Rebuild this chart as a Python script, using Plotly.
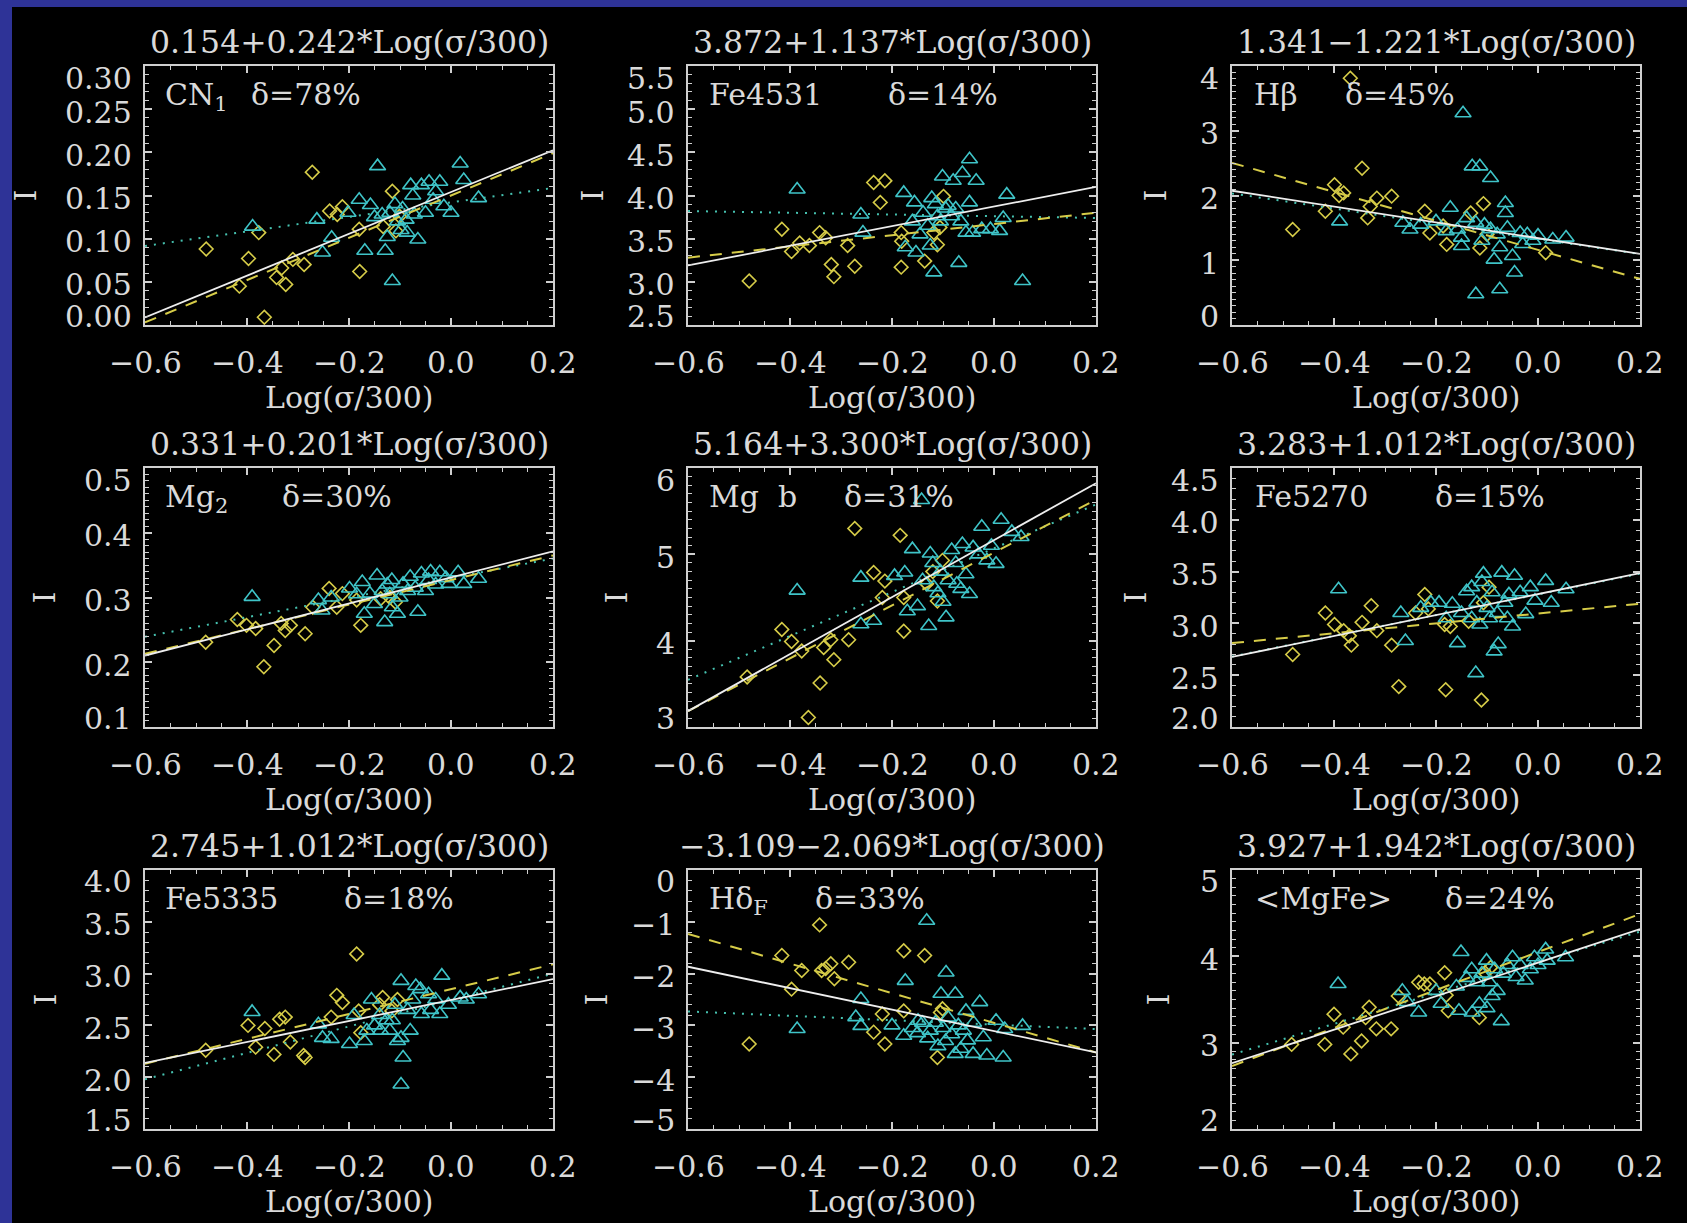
import plotly.graph_objects as go

# ---------------------------------------------------------------- data ----
INDEX_NAMES = ["CN<sub>1</sub>", "Fe4531", "Hβ", "Mg<sub>2</sub>", "Mg  b",
               "Fe5270", "Fe5335", "Hδ<sub>F</sub>", "&lt;MgFe&gt;"]
SCATTER_PCT = [78, 14, 45, 30, 31, 15, 18, 33, 24]

# global fit  I = a + b*Log(sigma/300)
FIT_ZERO = [0.154, 3.872, 1.341, 0.331, 5.164, 3.283, 2.745, -3.109, 3.927]
FIT_SLOPE = [0.242, 1.137, -1.221, 0.201, 3.300, 1.012, 1.012, -2.069, 1.942]
# fits to each sub-sample
DIAMOND_FIT_ZERO = [0.150, 3.67, 1.16, 0.327, 5.02, 3.095, 2.85, -2.95, 4.05]
DIAMOND_FIT_SLOPE = [0.245, 0.65, -2.24, 0.19, 3.06, 0.475, 1.20, -2.86, 2.20]
TRIANGLE_FIT_ZERO = [0.142, 3.76, 1.33, 0.330, 5.07, 3.28, 2.745, -2.985, 3.93]
TRIANGLE_FIT_SLOPE = [0.084, -0.10, -1.17, 0.151, 2.54, 1.00, 1.275, -0.425, 1.78]

Y_MIN = [0.0, 2.5, 0.0, 0.1, 3.0, 2.0, 1.5, -5.0, 2.0]
Y_MAX = [0.30, 5.5, 4.0, 0.5, 6.0, 4.5, 4.0, 0.0, 5.0]
Y_STEP = [0.05, 0.5, 1.0, 0.1, 1.0, 0.5, 0.5, 1.0, 1.0]
Y_MINOR = [0.01, 0.1, 0.1, 0.01, 0.1, 0.1, 0.1, 0.2, 0.1]
Y_DECIMALS = [2, 1, 0, 1, 0, 1, 1, 0, 0]
X_RANGE = [-0.6, 0.2]
X_TICKS = [-0.6, -0.4, -0.2, 0.0, 0.2]

CN1_DIA_X = [-0.48, -0.415, -0.397, -0.377, -0.366, -0.342, -0.332, -0.324, -0.31, -0.288, -0.272,
             -0.238, -0.223, -0.213, -0.18, -0.179, -0.133, -0.115, -0.108, -0.101]
CN1_DIA_Y = [0.088, 0.045, 0.077, 0.107, 0.009, 0.055, 0.066, 0.047, 0.076, 0.070, 0.177,
             0.132, 0.128, 0.137, 0.111, 0.062, 0.114, 0.155, 0.109, 0.126]
CN1_TRI_X = [-0.389, -0.263, -0.252, -0.234, -0.202, -0.18, -0.169, -0.158, -0.144, -0.129, -0.115,
             -0.150, -0.135, -0.120, -0.105, -0.095, -0.088, -0.086, -0.079, -0.072, -0.065, -0.058,
             -0.05, -0.043, -0.035, -0.022, -0.014, 0.0, 0.018, 0.025, 0.054, -0.110, -0.098, -0.125,
             -0.030, -0.075]
CN1_TRI_Y = [0.114, 0.122, 0.084, 0.101, 0.130, 0.145, 0.086, 0.139, 0.184, 0.086, 0.051,
             0.125, 0.128, 0.130, 0.120, 0.135, 0.122, 0.107, 0.162, 0.128, 0.099, 0.162,
             0.130, 0.166, 0.145, 0.166, 0.1375, 0.130, 0.187, 0.168, 0.147, 0.140, 0.110, 0.102,
             0.155, 0.150]

FE4531_DIA_X = [-0.48, -0.416, -0.397, -0.381, -0.362, -0.342, -0.33, -0.319, -0.314, -0.287, -0.273,
                -0.236, -0.214, -0.223, -0.182, -0.181, -0.182, -0.136, -0.111, -0.106, -0.099, -0.118]
FE4531_DIA_Y = [3.01, 3.61, 3.35, 3.45, 3.42, 3.57, 3.51, 3.20, 3.06, 3.42, 3.18,
                4.15, 4.17, 3.92, 3.57, 3.47, 3.17, 3.24, 3.43, 3.63, 3.99, 3.57]
FE4531_TRI_X = [-0.386, -0.261, -0.257, -0.177, -0.156, -0.174, -0.153, -0.139, -0.122, -0.118, -0.101,
                -0.09, -0.083, -0.08, -0.069, -0.062, -0.048, -0.048, -0.035, -0.055, -0.042, -0.024,
                -0.007, 0.011, 0.018, 0.025, 0.056, -0.111, -0.095, -0.075, -0.125, -0.130, -0.105,
                -0.065, -0.145, -0.160, -0.115]
FE4531_TRI_Y = [4.07, 3.78, 3.57, 4.03, 3.92, 3.40, 3.34, 3.80, 3.97, 3.11, 4.22,
                3.88, 3.76, 4.17, 3.22, 4.26, 4.42, 3.92, 4.17, 3.57, 3.57, 3.61,
                3.61, 3.59, 3.74, 4.01, 3.01, 3.76, 3.85, 3.85, 3.42, 3.65, 3.70,
                3.70, 3.55, 3.70, 3.90]

HB_DIA_X = [-0.481, -0.417, -0.399, -0.381, -0.368, -0.345, -0.334, -0.329, -0.316, -0.287, -0.222,
            -0.212, -0.186, -0.179, -0.107, -0.114, -0.132, 0.015, -0.1, -0.39]
HB_DIA_Y = [1.475, 1.757, 2.166, 2.04, 3.81, 2.42, 1.654, 1.83, 1.96, 1.99, 1.757,
            1.42, 1.53, 1.245, 1.875, 1.19, 1.73, 1.117, 1.40, 2.0]
HB_TRI_X = [-0.389, -0.265, -0.251, -0.172, -0.15, -0.147, -0.129, -0.114, -0.093, -0.122, -0.075,
            -0.064, -0.064, -0.05, -0.046, -0.086, -0.158, -0.122, -0.093, -0.080, -0.035, -0.021,
            0.0, 0.029, 0.055, -0.200, -0.230, -0.180, -0.140, -0.105, -0.060, -0.110, -0.075,
            -0.030, -0.010, -0.150]
HB_TRI_Y = [1.60, 1.58, 1.475, 1.81, 1.22, 3.27, 2.45, 2.45, 2.27, 0.476, 0.553,
            1.885, 1.73, 1.065, 0.81, 1.01, 1.475, 1.58, 1.48, 1.40, 1.42, 1.40,
            1.38, 1.32, 1.35, 1.60, 1.55, 1.45, 1.65, 1.55, 1.50, 1.30, 1.20,
            1.25, 1.30, 1.35]

MG2_DIA_X = [-0.481, -0.419, -0.401, -0.383, -0.367, -0.347, -0.333, -0.325, -0.315, -0.286, -0.271,
             -0.239, -0.224, -0.213, -0.185, -0.177, -0.138, -0.109, -0.12]
MG2_DIA_Y = [0.231, 0.266, 0.257, 0.252, 0.193, 0.226, 0.260, 0.249, 0.257, 0.244, 0.285,
             0.314, 0.285, 0.306, 0.296, 0.257, 0.298, 0.293, 0.300]
MG2_TRI_X = [-0.390, -0.260, -0.253, -0.235, -0.199, -0.174, -0.170, -0.159, -0.145, -0.130, -0.116,
             -0.105, -0.094, -0.080, -0.065, -0.058, -0.044, -0.022, -0.004, 0.014, 0.025, 0.054,
             -0.135, -0.120, -0.100, -0.085, -0.070, -0.050, -0.030, -0.010, -0.150, -0.115, -0.185,
             -0.125, -0.040]
MG2_TRI_Y = [0.301, 0.296, 0.280, 0.300, 0.314, 0.324, 0.275, 0.306, 0.334, 0.262, 0.327,
             0.275, 0.321, 0.332, 0.278, 0.337, 0.327, 0.339, 0.321, 0.339, 0.321, 0.329,
             0.310, 0.305, 0.300, 0.310, 0.315, 0.310, 0.320, 0.330, 0.290, 0.285, 0.305,
             0.320, 0.340]

MGB_DIA_X = [-0.484, -0.416, -0.397, -0.377, -0.364, -0.341, -0.334, -0.32, -0.314, -0.285, -0.273,
             -0.236, -0.219, -0.214, -0.184, -0.177, -0.177, -0.132, -0.111, -0.101, -0.120]
MGB_DIA_Y = [3.58, 4.13, 3.99, 3.88, 3.11, 3.51, 3.92, 4.01, 3.78, 4.01, 5.30,
             4.79, 4.50, 4.69, 5.22, 4.50, 4.11, 4.66, 4.46, 4.93, 4.80]
MGB_TRI_X = [-0.386, -0.261, -0.261, -0.236, -0.195, -0.175, -0.16, -0.170, -0.142, -0.128, -0.125,
             -0.118, -0.094, -0.083, -0.073, -0.062, -0.055, -0.048, -0.041, -0.024, -0.014, 0.004,
             0.014, 0.035, 0.053, -0.105, -0.090, -0.075, -0.110, -0.140, -0.150, -0.100, -0.065,
             -0.030, -0.005, -0.120]
MGB_TRI_Y = [4.58, 4.73, 4.19, 4.23, 4.75, 4.79, 5.06, 4.34, 5.63, 4.17, 5.01,
             4.62, 4.27, 5.05, 4.66, 5.12, 4.77, 4.54, 5.08, 5.32, 4.93, 4.89,
             5.40, 5.26, 5.20, 4.80, 4.70, 4.90, 4.55, 4.70, 4.40, 4.45, 4.60,
             5.00, 5.10, 4.90]

FE5270_DIA_X = [-0.481, -0.417, -0.399, -0.381, -0.370, -0.366, -0.345, -0.327, -0.316, -0.287, -0.273,
                -0.240, -0.222, -0.215, -0.183, -0.181, -0.172, -0.136, -0.111, -0.107, -0.096]
FE5270_DIA_Y = [2.70, 3.10, 2.99, 2.93, 2.88, 2.79, 3.01, 3.17, 2.93, 2.79, 2.39,
                3.10, 3.28, 3.14, 2.99, 2.36, 2.97, 3.02, 2.26, 3.20, 3.35]
FE5270_TRI_X = [-0.391, -0.269, -0.260, -0.194, -0.168, -0.158, -0.140, -0.122, -0.114, -0.107, -0.086,
                -0.078, -0.071, -0.057, -0.046, -0.050, -0.024, -0.006, 0.015, 0.026, 0.055, -0.230,
                -0.210, -0.150, -0.130, -0.120, -0.100, -0.090, -0.080, -0.065, -0.035, -0.015, -0.130,
                -0.110, -0.095, -0.060, -0.180]
FE5270_TRI_Y = [3.33, 3.10, 2.83, 3.20, 3.19, 2.81, 3.31, 2.52, 2.99, 3.48, 2.73,
                2.80, 3.49, 3.28, 3.46, 2.97, 3.09, 3.22, 3.41, 3.20, 3.33, 3.15,
                3.20, 3.10, 3.05, 3.20, 3.15, 3.30, 3.10, 3.20, 3.30, 3.35, 3.35,
                3.40, 3.05, 3.05, 3.05]

FE5335_DIA_X = [-0.481, -0.398, -0.383, -0.365, -0.347, -0.336, -0.325, -0.315, -0.289, -0.286, -0.235,
                -0.224, -0.213, -0.185, -0.181, -0.177, -0.134, -0.116, -0.105, -0.140]
FE5335_DIA_Y = [2.26, 2.50, 2.29, 2.47, 2.22, 2.56, 2.58, 2.34, 2.21, 2.19, 2.58,
                2.79, 2.72, 3.19, 2.64, 2.43, 2.77, 2.64, 2.75, 2.70]
FE5335_TRI_X = [-0.390, -0.260, -0.252, -0.235, -0.199, -0.170, -0.156, -0.138, -0.127, -0.098, -0.098,
                -0.094, -0.098, -0.080, -0.069, -0.058, -0.044, -0.018, -0.022, 0.018, 0.054, -0.150,
                -0.140, -0.115, -0.110, -0.085, -0.075, -0.060, -0.040, -0.030, -0.005, 0.030, -0.120,
                -0.105, -0.165, -0.190]
FE5335_TRI_Y = [2.63, 2.51, 2.38, 2.37, 2.32, 2.35, 2.75, 2.45, 2.55, 2.93, 2.38,
                2.19, 1.93, 2.45, 2.88, 2.61, 2.80, 2.98, 2.61, 2.77, 2.80, 2.50,
                2.60, 2.55, 2.70, 2.65, 2.75, 2.85, 2.65, 2.75, 2.70, 2.75, 2.45,
                2.35, 2.45, 2.60]

HDF_DIA_X = [-0.480, -0.416, -0.397, -0.377, -0.342, -0.338, -0.320, -0.313, -0.285, -0.236, -0.219,
             -0.214, -0.177, -0.177, -0.136, -0.111, -0.101, -0.330, -0.105]
HDF_DIA_Y = [-3.36, -1.65, -2.30, -1.94, -1.06, -1.94, -1.81, -2.10, -1.78, -3.13, -2.78,
             -3.36, -1.56, -2.72, -1.65, -3.62, -2.68, -1.90, -2.75]
HDF_TRI_X = [-0.386, -0.261, -0.271, -0.261, -0.200, -0.174, -0.177, -0.132, -0.149, -0.125, -0.104,
             -0.094, -0.083, -0.076, -0.076, -0.055, -0.052, -0.041, -0.028, -0.021, -0.014, 0.004,
             0.018, 0.021, 0.056, -0.160, -0.140, -0.115, -0.100, -0.090, -0.070, -0.060, -0.040,
             -0.130, -0.110, -0.095, -0.065, -0.150]
HDF_TRI_Y = [-3.07, -2.49, -2.84, -3.01, -3.00, -2.14, -3.20, -0.98, -2.91, -3.10, -2.39,
             -1.98, -3.17, -2.39, -3.55, -2.72, -3.29, -3.55, -2.55, -3.23, -3.58, -2.91,
             -3.62, -3.07, -3.01, -3.05, -2.95, -2.95, -3.05, -2.85, -3.00, -3.10, -2.95,
             -3.25, -3.40, -3.30, -3.45, -3.15]

MGFE_DIA_X = [-0.483, -0.418, -0.400, -0.382, -0.367, -0.346, -0.331, -0.338, -0.317, -0.288, -0.274,
              -0.234, -0.223, -0.212, -0.183, -0.176, -0.115, -0.104, -0.093, -0.180]
MGFE_DIA_Y = [2.98, 2.98, 3.33, 3.18, 2.87, 3.02, 3.41, 3.29, 3.16, 3.16, 3.54,
              3.70, 3.68, 3.68, 3.81, 3.37, 3.29, 3.81, 3.87, 3.55]
MGFE_TRI_X = [-0.392, -0.266, -0.256, -0.234, -0.151, -0.155, -0.129, -0.101, -0.090, -0.072, -0.068,
              -0.050, -0.043, -0.025, -0.007, 0.015, 0.018, 0.054, -0.160, -0.140, -0.120, -0.110,
              -0.095, -0.085, -0.080, -0.060, -0.035, -0.015, 0.000, -0.130, -0.115, -0.100, -0.200,
              -0.190]
MGFE_TRI_Y = [3.68, 3.60, 3.47, 3.35, 4.05, 3.37, 3.35, 3.95, 3.54, 3.25, 3.80,
              3.99, 3.76, 3.72, 3.99, 4.08, 3.95, 3.99, 3.65, 3.75, 3.70, 3.80,
              3.70, 3.85, 3.60, 3.90, 3.90, 3.85, 3.90, 3.85, 3.45, 3.40, 3.60,
              3.45]

DIAMONDS_X = [CN1_DIA_X, FE4531_DIA_X, HB_DIA_X, MG2_DIA_X, MGB_DIA_X,
              FE5270_DIA_X, FE5335_DIA_X, HDF_DIA_X, MGFE_DIA_X]
DIAMONDS_Y = [CN1_DIA_Y, FE4531_DIA_Y, HB_DIA_Y, MG2_DIA_Y, MGB_DIA_Y,
              FE5270_DIA_Y, FE5335_DIA_Y, HDF_DIA_Y, MGFE_DIA_Y]
TRIANGLES_X = [CN1_TRI_X, FE4531_TRI_X, HB_TRI_X, MG2_TRI_X, MGB_TRI_X,
               FE5270_TRI_X, FE5335_TRI_X, HDF_TRI_X, MGFE_TRI_X]
TRIANGLES_Y = [CN1_TRI_Y, FE4531_TRI_Y, HB_TRI_Y, MG2_TRI_Y, MGB_TRI_Y,
               FE5270_TRI_Y, FE5335_TRI_Y, HDF_TRI_Y, MGFE_TRI_Y]

# -------------------------------------------------------------- layout ----
W, H = 1687, 1223
COL_LEFT = [145, 688, 1232]
ROW_TOP = [66, 468, 870]
PANEL_W, PANEL_H = 408, 259
YLABEL_GAP = [120, 96, 77, 101, 72, 97, 100, 92, 74]
NAME_DX = [20, 21, 22, 20, 21, 23, 20, 21, 23]
DELTA_DX = [106, 200, 113, 137, 156, 203, 199, 127, 213]

FONT = "DejaVu Serif"
FS = 30
FS_TITLE = 31.5
TXT = "#dadada"
FRAME = "#cfcfcf"
DIA_COL = "#d6cc48"
TRI_COL = "#3fc4c8"
DOT_COL = "#46c2b0"


def fmt(v, dec):
    v = round(v, 6) + 0.0
    return f"{v:.{dec}f}".replace("-", "\u2212")


def eq_text(a, b):
    sign = "+" if b >= 0 else "\u2212"
    return f"{fmt(a, 3)}{sign}{abs(b):.3f}*Log(σ/300)"


fig = go.Figure()
ann = []
font = dict(family=FONT, size=FS, color=TXT)
title_font = dict(family=FONT, size=FS_TITLE, color=TXT)

for i in range(9):
    r, c = divmod(i, 3)
    n = "" if i == 0 else str(i + 1)
    xa, ya = "x" + n, "y" + n
    left, top = COL_LEFT[c], ROW_TOP[r]

    fig.update_layout(**{
        "xaxis" + n: dict(
            domain=[left / W, (left + PANEL_W) / W], anchor=ya, range=X_RANGE,
            showline=True, linecolor=FRAME, linewidth=2, mirror="allticks",
            ticks="inside", ticklen=7, tickwidth=1.5, tickcolor=FRAME,
            tick0=-0.6, dtick=0.2, showticklabels=False, showgrid=False, zeroline=False,
            minor=dict(ticks="inside", ticklen=4, tickwidth=1.2, tickcolor=FRAME,
                       dtick=0.05, showgrid=False),
        ),
        "yaxis" + n: dict(
            domain=[1 - (top + PANEL_H) / H, 1 - top / H], anchor=xa,
            range=[Y_MIN[i], Y_MAX[i]],
            showline=True, linecolor=FRAME, linewidth=2, mirror="allticks",
            ticks="inside", ticklen=7, tickwidth=1.5, tickcolor=FRAME,
            tick0=Y_MIN[i], dtick=Y_STEP[i], showticklabels=False,
            showgrid=False, zeroline=False,
            minor=dict(ticks="inside", ticklen=4, tickwidth=1.2, tickcolor=FRAME,
                       dtick=Y_MINOR[i], showgrid=False),
        ),
    })

    # galaxies
    fig.add_trace(go.Scatter(
        x=DIAMONDS_X[i], y=DIAMONDS_Y[i], xaxis=xa, yaxis=ya, mode="markers",
        marker=dict(symbol="diamond-open", size=10.5, color=DIA_COL, line=dict(width=1.6, color=DIA_COL)),
    ))
    fig.add_trace(go.Scatter(
        x=TRIANGLES_X[i], y=TRIANGLES_Y[i], xaxis=xa, yaxis=ya, mode="markers",
        marker=dict(symbol="triangle-up-open", size=14, color=TRI_COL, line=dict(width=1.6, color=TRI_COL)),
    ))

    # regression lines
    fits = [
        (TRIANGLE_FIT_ZERO[i], TRIANGLE_FIT_SLOPE[i], DOT_COL, "2px,7px", 2),
        (DIAMOND_FIT_ZERO[i], DIAMOND_FIT_SLOPE[i], DIA_COL, "12px,10px", 2),
        (FIT_ZERO[i], FIT_SLOPE[i], "#eeeeee", "solid", 1.8),
    ]
    for a, b, col, dash, w in fits:
        fig.add_trace(go.Scatter(
            x=X_RANGE, y=[a + b * x for x in X_RANGE], xaxis=xa, yaxis=ya, mode="lines",
            line=dict(color=col, width=w, dash=dash),
        ))

    xd, yd = xa + " domain", ya + " domain"

    # equation above the panel
    ann.append(dict(text=eq_text(FIT_ZERO[i], FIT_SLOPE[i]), xref=xd, yref=yd, x=0.5, y=1,
                    xanchor="center", yanchor="middle", yshift=24, showarrow=False, font=title_font))
    # index name and scatter
    ann.append(dict(text=INDEX_NAMES[i], xref=xd, yref=yd, x=0, y=1, xanchor="left", yanchor="top",
                    xshift=NAME_DX[i] - 2, yshift=-9, showarrow=False, font=font))
    ann.append(dict(text=f"δ={SCATTER_PCT[i]}%", xref=xd, yref=yd, x=0, y=1, xanchor="left",
                    yanchor="top", xshift=DELTA_DX[i] - 2, yshift=-9, showarrow=False, font=font))
    # axis titles
    ann.append(dict(text="Log(σ/300)", xref=xd, yref=yd, x=0.5, y=0, xanchor="center",
                    yanchor="middle", yshift=-72, showarrow=False, font=font))
    ann.append(dict(text="I", xref=xd, yref=yd, x=0, y=0.5, xanchor="center", yanchor="middle",
                    xshift=-YLABEL_GAP[i], textangle=-90, showarrow=False, font=font))
    # x tick labels
    for k, v in enumerate(X_TICKS):
        ann.append(dict(text=fmt(v, 1), xref=xd, yref=yd, x=k / (len(X_TICKS) - 1), y=0,
                        xanchor="center", yanchor="middle", yshift=-37, showarrow=False, font=font))
    # y tick labels (end labels pulled inside the frame)
    nt = int(round((Y_MAX[i] - Y_MIN[i]) / Y_STEP[i]))
    for k in range(nt + 1):
        v = round(Y_MIN[i] + k * Y_STEP[i], 6)
        shift = -3
        if k == 0:
            shift = 9
        elif k == nt:
            shift = -12
        ann.append(dict(text=fmt(v, Y_DECIMALS[i]), xref=xd, yref=yd, x=0, y=k / nt,
                        xanchor="right", yanchor="middle", xshift=-11, yshift=shift,
                        showarrow=False, font=font))

fig.update_layout(
    width=W, height=H, margin=dict(l=0, r=0, t=0, b=0),
    paper_bgcolor="black", plot_bgcolor="black", showlegend=False,
    annotations=ann,
    shapes=[
        dict(type="rect", xref="paper", yref="paper", x0=0, x1=12 / W, y0=0, y1=1,
             fillcolor="#2e3397", line=dict(width=0), layer="below"),
        dict(type="rect", xref="paper", yref="paper", x0=0, x1=1, y0=1 - 7 / H, y1=1,
             fillcolor="#2e3397", line=dict(width=0), layer="below"),
    ],
)

fig.write_html("out.html")
